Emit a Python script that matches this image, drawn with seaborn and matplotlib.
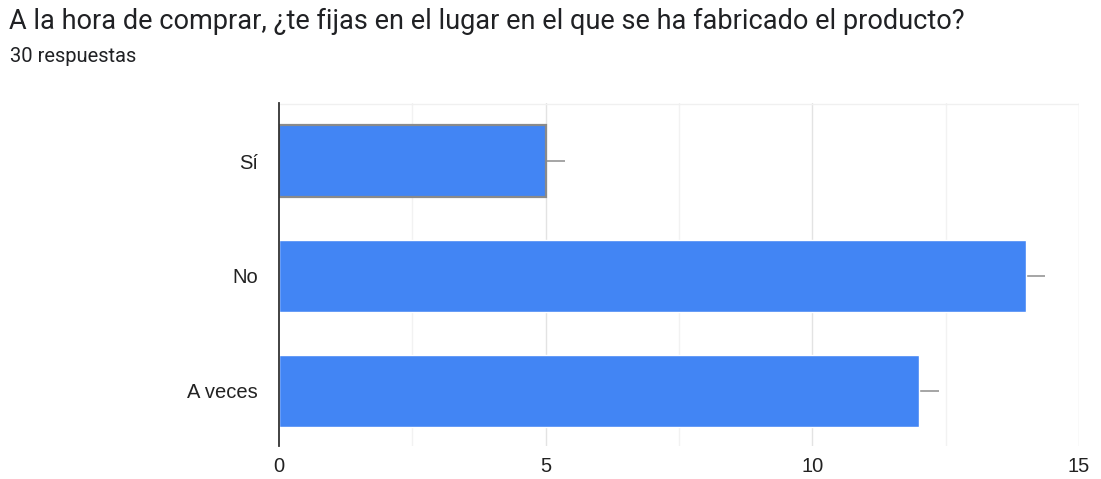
import matplotlib
matplotlib.use("Agg")
import matplotlib.pyplot as plt
import seaborn as sns
import pandas as pd

categories = ["Sí", "No", "A veces"]
counts = [5, 14, 12]
x_ticks = [0, 5, 10, 15]
title = "A la hora de comprar, ¿te fijas en el lugar en el que se ha fabricado el producto?"
subtitle = "30 respuestas"

sns.set_theme(style="white")
plt.rcParams["font.family"] = ["Liberation Sans", "DejaVu Sans"]

df = pd.DataFrame({"respuesta": categories, "n": counts})

fig = plt.figure(figsize=(11.01, 4.79), dpi=100)
ax = fig.add_axes([279 / 1101, 1 - 446 / 479, 800 / 1101, 343 / 479])

# light grid: major every 5, minor every 2.5
for v in [2.5, 7.5, 12.5]:
    ax.axvline(v, color="#f2f2f2", lw=1, zorder=0)
for v in [5, 10, 15]:
    ax.axvline(v, color="#e3e3e3", lw=1, zorder=0)
ax.axhline(-0.5, color="#f0f0f0", lw=1, zorder=0)
ax.axhline(2.5, color="#e6e6e6", lw=1, zorder=0)

sns.barplot(data=df, y="respuesta", x="n", orient="h", color="#4285F4",
            saturation=1, width=0.625, ax=ax, zorder=2)

# highlighted first bar
first = ax.patches[0]
first.set_edgecolor("#8a8a8a")
first.set_linewidth(1.6)

# short leader lines at the bar ends
for i, v in enumerate(counts):
    ax.hlines(i, v, v + 0.37, color="#9e9e9e", lw=1.3, zorder=1)

ax.set_xlim(0, 15)
ax.set_ylim(2.48, -0.505)
ax.set_xticks(x_ticks)
ax.set_xticklabels([str(t) for t in x_ticks])
ax.set_xlabel("")
ax.set_ylabel("")
for s in ["top", "right", "bottom"]:
    ax.spines[s].set_visible(False)
ax.spines["left"].set_color("#333333")
ax.spines["left"].set_linewidth(1.3)
ax.spines["left"].set_zorder(3)
ax.tick_params(axis="x", length=0, pad=8, labelsize=14.5, colors="#222222")
ax.tick_params(axis="y", length=0, pad=15, labelsize=14.5, colors="#222222")

head_font = ["Roboto", "DejaVu Sans"]
fig.text(9 / 1101, 1 - 21 / 479, title, fontsize=19.5, family=head_font,
         color="#202124", va="center", ha="left")
fig.text(10 / 1101, 1 - 57 / 479, subtitle, fontsize=14.5, family=head_font,
         color="#202124", va="center", ha="left")

fig.savefig("out.png", dpi=100)
